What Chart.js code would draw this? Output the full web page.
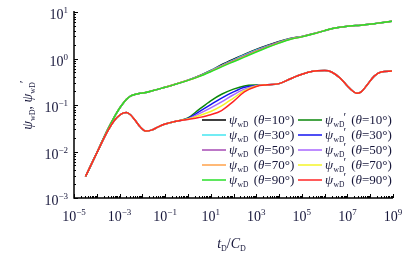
<!DOCTYPE html>
<html>
<head>
<meta charset="utf-8">
<script src="https://cdn.jsdelivr.net/npm/chart.js@4.4.1/dist/chart.umd.min.js"></script>
<style>
  html, body { margin: 0; padding: 0; background: #fff; }
  #wrap { width: 416px; height: 255px; position: relative; }
</style>
</head>
<body>
<div id="wrap"><canvas id="c"></canvas></div>
<script>
// dimensionless time tD/CD (x values shared by every curve)
const tD = [3.2e-5, 1e-4, 3e-4, 6e-4, 1e-3, 1.5e-3, 2e-3, 3e-3, 5e-3, 8e-3,
            1.4e-2, 2.5e-2, 5e-2, 0.1, 0.3, 1, 3, 10, 30, 100,
            300, 1e3, 3e3, 1e4, 3e4, 1e5, 3e5, 1e6, 2e6, 5e6,
            1e7, 1.7e7, 2.6e7, 4e7, 7e7, 1.5e8, 3e8, 9e8];

// pseudo-pressure psi_wD
const psi10 = [0.0029, 0.0093, 0.0295, 0.0562, 0.0851, 0.112, 0.132, 0.155, 0.170, 0.178,
               0.186, 0.200, 0.219, 0.240, 0.282, 0.343, 0.422, 0.556, 0.733, 0.966,
               1.23, 1.57, 1.91, 2.32, 2.69, 2.99, 3.39, 3.98, 4.37, 4.73,
               4.95, 5.07, 5.13, 5.19, 5.37, 5.62, 5.89, 6.31];
const psi30 = [0.0029, 0.0093, 0.0295, 0.0562, 0.0851, 0.112, 0.132, 0.155, 0.170, 0.178,
               0.186, 0.200, 0.219, 0.240, 0.282, 0.342, 0.418, 0.546, 0.714, 0.935,
               1.19, 1.52, 1.86, 2.27, 2.66, 2.97, 3.38, 3.98, 4.37, 4.73,
               4.95, 5.07, 5.13, 5.19, 5.37, 5.62, 5.89, 6.31];
const psi50 = [0.0029, 0.0093, 0.0295, 0.0562, 0.0851, 0.112, 0.132, 0.155, 0.170, 0.178,
               0.186, 0.200, 0.219, 0.240, 0.282, 0.341, 0.414, 0.537, 0.696, 0.907,
               1.15, 1.47, 1.81, 2.23, 2.63, 2.95, 3.37, 3.98, 4.37, 4.73,
               4.95, 5.07, 5.13, 5.19, 5.37, 5.62, 5.89, 6.31];
const psi70 = [0.0029, 0.0093, 0.0295, 0.0562, 0.0851, 0.112, 0.132, 0.155, 0.170, 0.178,
               0.186, 0.200, 0.219, 0.240, 0.282, 0.340, 0.411, 0.528, 0.678, 0.879,
               1.11, 1.43, 1.76, 2.18, 2.60, 2.93, 3.36, 3.98, 4.37, 4.73,
               4.95, 5.07, 5.13, 5.19, 5.37, 5.62, 5.89, 6.31];
const psi90 = [0.0029, 0.0093, 0.0295, 0.0562, 0.0851, 0.112, 0.132, 0.155, 0.170, 0.178,
               0.186, 0.200, 0.219, 0.240, 0.282, 0.339, 0.407, 0.519, 0.661, 0.851,
               1.07, 1.38, 1.72, 2.14, 2.57, 2.92, 3.35, 3.98, 4.37, 4.73,
               4.95, 5.07, 5.13, 5.19, 5.37, 5.62, 5.89, 6.31];

// derivative psi_wD'
const dpsi10 = [0.0029, 0.0093, 0.0275, 0.0468, 0.0603, 0.0676, 0.0692, 0.0617, 0.0457, 0.0339,
                0.0275, 0.0288, 0.0339, 0.0389, 0.0447, 0.0525, 0.0794, 0.123, 0.170, 0.219,
                0.257, 0.269, 0.272, 0.288, 0.363, 0.457, 0.531, 0.550, 0.513, 0.372,
                0.257, 0.200, 0.178, 0.191, 0.263, 0.417, 0.513, 0.537];
const dpsi30 = [0.0029, 0.0093, 0.0275, 0.0468, 0.0603, 0.0676, 0.0692, 0.0617, 0.0457, 0.0339,
                0.0275, 0.0288, 0.0339, 0.0389, 0.0447, 0.0513, 0.0708, 0.102, 0.141, 0.191,
                0.240, 0.263, 0.272, 0.288, 0.363, 0.457, 0.531, 0.550, 0.513, 0.372,
                0.257, 0.200, 0.178, 0.191, 0.263, 0.417, 0.513, 0.537];
const dpsi50 = [0.0029, 0.0093, 0.0275, 0.0468, 0.0603, 0.0676, 0.0692, 0.0617, 0.0457, 0.0339,
                0.0275, 0.0288, 0.0339, 0.0389, 0.0447, 0.0501, 0.0646, 0.0871, 0.117, 0.166,
                0.219, 0.260, 0.272, 0.288, 0.363, 0.457, 0.531, 0.550, 0.513, 0.372,
                0.257, 0.200, 0.178, 0.191, 0.263, 0.417, 0.513, 0.537];
const dpsi70 = [0.0029, 0.0093, 0.0275, 0.0468, 0.0603, 0.0676, 0.0692, 0.0617, 0.0457, 0.0339,
                0.0275, 0.0288, 0.0339, 0.0389, 0.0447, 0.0501, 0.0589, 0.0724, 0.0955, 0.141,
                0.204, 0.257, 0.272, 0.288, 0.363, 0.457, 0.531, 0.550, 0.513, 0.372,
                0.257, 0.200, 0.178, 0.191, 0.263, 0.417, 0.513, 0.537];
const dpsi90 = [0.0029, 0.0093, 0.0275, 0.0468, 0.0603, 0.0676, 0.0692, 0.0617, 0.0457, 0.0339,
                0.0275, 0.0288, 0.0339, 0.0389, 0.0447, 0.0490, 0.0537, 0.0617, 0.0759, 0.120,
                0.191, 0.251, 0.272, 0.288, 0.363, 0.457, 0.531, 0.550, 0.513, 0.372,
                0.257, 0.200, 0.178, 0.191, 0.263, 0.417, 0.513, 0.537];

const angles = ['10', '30', '50', '70', '90'];
const psiColors = ['#000000', '#44e6f0', '#a64ab4', '#ffa24a', '#2adf2a'];
const dpsiColors = ['#0a870a', '#1414f0', '#a866ff', '#f4f428', '#ff2424'];

// axis tick exponents
const xDecades = [-5, -4, -3, -2, -1, 0, 1, 2, 3, 4, 5, 6, 7, 8, 9];
const xLabelExps = [-5, -3, -1, 1, 3, 5, 7, 9];
const yDecades = [-3, -2, -1, 0, 1];
const yLabelExps = [-3, -2, -1, 0, 1];

const SERIF = '"Liberation Serif", "Times New Roman", serif';
const TXT = '#16163a';

function pts(ys) { return tD.map((x, i) => ({ x: x, y: ys[i] })); }

const psiSets = [psi10, psi30, psi50, psi70, psi90];
const dpsiSets = [dpsi10, dpsi30, dpsi50, dpsi70, dpsi90];

const datasets = [];
psiSets.forEach((s, i) => datasets.push({
  label: 'psi ' + angles[i], kind: 'psi', ang: angles[i],
  data: pts(s), borderColor: psiColors[i], order: 9 - i
}));
dpsiSets.forEach((s, i) => datasets.push({
  label: 'dpsi ' + angles[i], kind: 'dpsi', ang: angles[i],
  data: pts(s), borderColor: dpsiColors[i], order: 4 - i
}));
datasets.forEach(d => {
  d.borderWidth = 1.5; d.pointRadius = 0; d.fill = false;
  d.cubicInterpolationMode = 'monotone';
});

function drawParts(ctx, parts, x, y) {
  let cx = x;
  for (const p of parts) {
    ctx.font = p.f;
    ctx.fillText(p.t, cx + (p.dx || 0), y + (p.dy || 0));
    cx += ctx.measureText(p.t).width + (p.dx || 0);
  }
  return cx;
}
function partsWidth(ctx, parts) {
  let w = 0;
  for (const p of parts) { ctx.font = p.f; w += ctx.measureText(p.t).width + (p.dx || 0); }
  return w;
}
function powParts(e) {
  const s = (e < 0 ? '\u2212' : '') + Math.abs(e);
  return [{ t: '10', f: '14px ' + SERIF }, { t: s, f: '9px ' + SERIF, dy: -6 }];
}
function legendParts(d) {
  const p = [{ t: 'ψ', f: 'italic 13px ' + SERIF }, { t: 'wD', f: '7.5px ' + SERIF, dy: 3, dx: 0.5 }];
  if (d.kind === 'dpsi') p.push({ t: '′', f: '12px ' + SERIF, dy: -3, dx: -1 });
  p.push({ t: ' (', f: '13px ' + SERIF, dx: 2 });
  p.push({ t: 'θ', f: 'italic 13px ' + SERIF });
  p.push({ t: '=' + d.ang + '°)', f: '13px ' + SERIF });
  return p;
}

const decor = {
  id: 'decor',
  afterDraw(chart) {
    const { ctx, chartArea: a, scales: { x, y } } = chart;
    ctx.save();
    ctx.strokeStyle = '#000';
    ctx.lineWidth = 1.5;
    ctx.beginPath();
    ctx.moveTo(a.left, a.top - 1);
    ctx.lineTo(a.left, a.bottom);
    ctx.lineTo(a.right, a.bottom);
    ctx.stroke();

    // inward ticks
    ctx.lineWidth = 1;
    ctx.beginPath();
    xDecades.forEach(k => {
      for (let m = 1; m <= 9; m++) {
        if (k === 9 && m > 1) break;
        const px = Math.round(x.getPixelForValue(m * Math.pow(10, k))) + 0.5;
        const len = m === 1 ? 4 : 2;
        ctx.moveTo(px, a.bottom);
        ctx.lineTo(px, a.bottom - len);
      }
    });
    yDecades.forEach(k => {
      for (let m = 1; m <= 9; m++) {
        if (k === 1 && m > 1) break;
        const py = Math.round(y.getPixelForValue(m * Math.pow(10, k))) + 0.5;
        const len = m === 1 ? 4 : 2;
        ctx.moveTo(a.left, py);
        ctx.lineTo(a.left + len, py);
      }
    });
    ctx.stroke();

    // tick labels
    ctx.fillStyle = TXT;
    ctx.textBaseline = 'alphabetic';
    ctx.textAlign = 'left';
    xLabelExps.forEach(k => {
      const px = x.getPixelForValue(Math.pow(10, k));
      const parts = powParts(k);
      const w = partsWidth(ctx, parts);
      drawParts(ctx, parts, px - w / 2, a.bottom + 23);
    });
    yLabelExps.forEach(k => {
      const py = y.getPixelForValue(Math.pow(10, k));
      const parts = powParts(k);
      const w = partsWidth(ctx, parts);
      drawParts(ctx, parts, a.left - 6 - w, py + 7);
    });

    // x title  tD/CD
    const xt = [
      { t: 't', f: 'italic 14px ' + SERIF },
      { t: 'D', f: '8px ' + SERIF, dy: 3 },
      { t: '/', f: '14px ' + SERIF },
      { t: 'C', f: 'italic 14px ' + SERIF },
      { t: 'D', f: '8px ' + SERIF, dy: 3 }
    ];
    const xw = partsWidth(ctx, xt);
    drawParts(ctx, xt, (a.left + a.right) / 2 - xw / 2 - 2, 248);

    // y title  psi_wD, psi_wD'
    const yt = [
      { t: 'ψ', f: 'italic 14px ' + SERIF },
      { t: 'wD', f: '8px ' + SERIF, dy: 3 },
      { t: ', ', f: '14px ' + SERIF },
      { t: 'ψ', f: 'italic 14px ' + SERIF },
      { t: 'wD', f: '8px ' + SERIF, dy: 3 },
      { t: '′', f: '13px ' + SERIF, dy: -4, dx: -1 }
    ];
    const yw = partsWidth(ctx, yt);
    ctx.save();
    ctx.translate(32, 105);
    ctx.rotate(-Math.PI / 2);
    drawParts(ctx, yt, -yw / 2, 0);
    ctx.restore();

    // legend: two columns, five rows
    const rows = [120, 135, 150, 165, 180];
    chart.data.datasets.forEach((d, i) => {
      const col = d.kind === 'psi' ? 0 : 1;
      const r = rows[angles.indexOf(d.ang)];
      const x0 = col === 0 ? 202 : 298;
      ctx.strokeStyle = d.borderColor;
      ctx.lineWidth = 1.5;
      ctx.beginPath();
      ctx.moveTo(x0, r);
      ctx.lineTo(x0 + 24, r);
      ctx.stroke();
      ctx.fillStyle = TXT;
      drawParts(ctx, legendParts(d), x0 + 27, r + 4);
    });
    ctx.restore();
  }
};

new Chart(document.getElementById('c'), {
  type: 'line',
  data: { datasets: datasets },
  options: {
    responsive: true,
    maintainAspectRatio: false,
    animation: false,
    layout: { padding: { left: 74, right: 23, top: 12, bottom: 57 } },
    plugins: { legend: { display: false }, tooltip: { enabled: false } },
    scales: {
      x: { type: 'logarithmic', min: 1e-5, max: 1e9, display: false },
      y: { type: 'logarithmic', min: 1e-3, max: 10, display: false }
    }
  },
  plugins: [decor]
});
</script>
</body>
</html>
